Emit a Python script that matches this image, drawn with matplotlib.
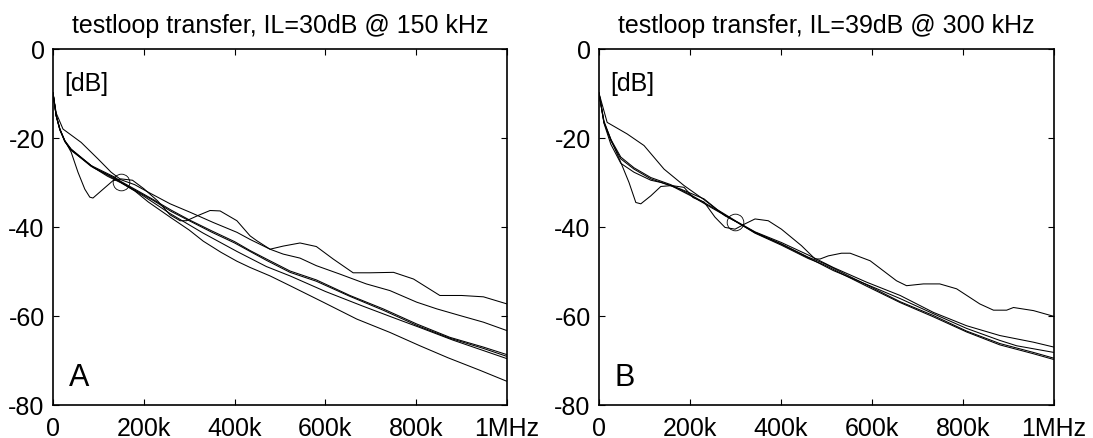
import matplotlib
matplotlib.use('Agg')
import matplotlib.pyplot as plt

plt.rcParams['font.family'] = ['Liberation Sans', 'DejaVu Sans']
plt.rcParams['axes.unicode_minus'] = False

# frequencies in kHz, attenuation in dB, read off the reference
# --- panel A ---
fa_dip = [0, 7, 15, 26, 40, 55, 70, 81, 88, 106, 132, 150, 175, 200, 230, 258, 280, 294, 320, 346, 368, 405, 434, 449, 478, 507, 544, 580, 617, 661, 698, 750, 794, 852, 900, 948, 1000]
a_dip = [-10, -15.1, -18.1, -20.7, -23.3, -27.8, -31.6, -33.4, -33.6, -32.0, -29.7, -29.3, -29.6, -31.5, -34.2, -37.4, -38.7, -38.7, -37.5, -36.4, -36.5, -38.7, -42.1, -43.2, -45.1, -44.4, -43.7, -44.5, -47.3, -50.4, -50.4, -50.3, -51.8, -55.5, -55.5, -55.8, -57.4]

fa_up = [0, 7, 22, 62, 99, 128, 150, 180, 210, 258, 302, 353, 405, 434, 478, 507, 544, 580, 632, 690, 742, 801, 845, 896, 948, 1000]
a_up = [-10, -14.5, -18.1, -21.1, -24.8, -27.8, -29.5, -30.6, -32.3, -34.9, -36.8, -39.1, -41.3, -42.9, -45.1, -46.2, -47.1, -48.8, -50.7, -52.9, -54.4, -57.0, -58.5, -60.0, -61.5, -63.4]

fa_mid = [0, 7, 15, 26, 40, 84, 136, 150, 180, 220, 260, 300, 350, 400, 434, 470, 522, 580, 654, 727, 801, 874, 948, 1000]
a_mid1 = [-10, -15.1, -18.1, -20.7, -22.6, -26.3, -28.9, -29.9, -31.6, -33.9, -36.3, -38.5, -41.0, -43.4, -45.4, -47.3, -50.0, -52.0, -55.5, -58.5, -61.9, -64.9, -67.1, -68.8]
a_mid2 = [-10, -15.0, -18.0, -20.9, -22.8, -26.5, -29.1, -30.1, -31.8, -34.1, -36.6, -38.7, -41.3, -43.7, -45.6, -47.6, -50.3, -52.3, -55.7, -58.8, -62.2, -65.1, -67.4, -69.2]

fa_low = [0, 7, 15, 26, 40, 90, 150, 200, 258, 331, 405, 470, 522, 600, 680, 750, 808, 880, 940, 1000]
a_low = [-10, -15.2, -18.3, -20.9, -22.9, -26.8, -30.1, -33.2, -37.1, -41.5, -45.6, -49.0, -51.1, -54.6, -57.8, -60.5, -62.7, -65.5, -67.6, -69.7]

fa_bot = [0, 7, 15, 26, 40, 90, 120, 150, 180, 210, 258, 300, 331, 370, 405, 434, 478, 522, 595, 669, 742, 808, 870, 940, 1000]
a_bot = [-10, -15.1, -18.2, -20.8, -22.7, -26.8, -28.7, -30.2, -32.0, -34.5, -37.9, -40.8, -43.3, -45.8, -47.8, -49.2, -51.1, -53.3, -57.0, -60.8, -63.8, -66.8, -69.5, -72.3, -74.8]

# --- panel B ---
fb_dip = [0, 11, 29, 48, 66, 81, 92, 114, 136, 160, 187, 207, 231, 255, 277, 299, 321, 343, 372, 401, 445, 475, 486, 504, 533, 552, 596, 654, 676, 713, 749, 786, 837, 867, 896, 911, 955, 1000]
b_dip = [-10, -16.6, -21.1, -25.6, -30.1, -34.6, -34.9, -33.1, -31.0, -30.8, -31.2, -33.5, -34.5, -37.9, -40.2, -40.6, -39.4, -38.3, -38.7, -40.6, -44.3, -47.3, -47.3, -46.6, -46.0, -46.0, -47.7, -52.2, -53.3, -52.9, -52.9, -54.0, -57.4, -58.8, -58.8, -58.2, -58.9, -60.2]

fb_low = [0, 11, 26, 48, 77, 114, 136, 180, 231, 260, 303, 343, 401, 460, 515, 588, 662, 735, 808, 881, 955, 1000]
b_low = [-10, -16.8, -21.5, -25.8, -27.8, -29.6, -30.1, -31.6, -33.8, -36.2, -38.9, -41.2, -43.6, -46.4, -49.2, -52.5, -55.5, -59.3, -62.3, -64.5, -66.0, -67.1]

fb_up = [0, 18, 62, 99, 143, 187, 230, 277, 303, 343, 401, 460, 515, 588, 662, 735, 808, 881, 918, 1000]
b_up = [-10, -16.6, -19.2, -21.8, -27.1, -30.8, -33.9, -37.6, -39.0, -41.4, -44.0, -47.0, -49.9, -53.0, -56.2, -59.6, -62.9, -65.6, -66.8, -68.3]

fb_mid = [0, 11, 26, 48, 77, 114, 158, 202, 246, 275, 303, 343, 401, 460, 497, 541, 588, 662, 735, 808, 881, 955, 1000]
b_mid1 = [-10, -16.6, -20.7, -24.8, -27.1, -29.3, -30.8, -33.1, -35.7, -37.4, -39.0, -41.3, -43.9, -46.9, -48.4, -50.7, -53.1, -56.9, -60.0, -63.5, -66.3, -68.3, -69.6]
b_mid2 = [-10, -16.3, -20.4, -24.4, -26.8, -29.0, -30.6, -32.9, -35.5, -37.3, -39.0, -41.5, -44.2, -47.2, -48.7, -51.0, -53.4, -57.1, -60.3, -63.7, -66.6, -68.6, -69.9]

titles = ['testloop transfer, IL=30dB @ 150 kHz', 'testloop transfer, IL=39dB @ 300 kHz']
panel_tags = ['A', 'B']
marks = [(150, -30), (300, -39)]
xticks = [0, 200, 400, 600, 800, 1000]
xtick_labels = ['0', '200k', '400k', '600k', '800k', '1MHz']
yticks = [0, -20, -40, -60, -80]

curves_a = [(fa_dip, a_dip), (fa_up, a_up), (fa_mid, a_mid1), (fa_mid, a_mid2), (fa_low, a_low), (fa_bot, a_bot)]
curves_b = [(fb_dip, b_dip), (fb_low, b_low), (fb_up, b_up), (fb_mid, b_mid1), (fb_mid, b_mid2)]


def draw_panel(ax, curves, title, tag, mark):
    for f, v in curves:
        ax.plot(f, v, color='black', lw=0.75)
    ax.plot([mark[0]], [mark[1]], marker='o', ms=12, mfc='none', mec='black', mew=0.6)
    ax.set_xlim(0, 1000)
    ax.set_ylim(-80, 0)
    ax.set_xticks(xticks)
    ax.set_xticklabels(xtick_labels)
    ax.set_yticks(yticks)
    ax.tick_params(direction='in', top=True, right=True, length=4, width=0.8,
                   labelsize=18)
    ax.tick_params(axis='y', pad=6)
    ax.tick_params(axis='x', pad=8)
    for s in ax.spines.values():
        s.set_linewidth(1.2)
    ax.set_title(title, fontsize=18, pad=12)
    ax.text(0.025, 0.904, '[dB]', transform=ax.transAxes, fontsize=18, va='center', ha='left')
    ax.text(0.034, 0.078, tag, transform=ax.transAxes, fontsize=22, va='center', ha='left')


fig = plt.figure(figsize=(10.93, 4.39), dpi=100)
ax1 = fig.add_axes([0.0485, 0.0763, 0.4154, 0.8109])
ax2 = fig.add_axes([0.548, 0.0763, 0.4163, 0.8109])
draw_panel(ax1, curves_a, titles[0], panel_tags[0], marks[0])
draw_panel(ax2, curves_b, titles[1], panel_tags[1], marks[1])

plt.savefig('out.png', dpi=100)
